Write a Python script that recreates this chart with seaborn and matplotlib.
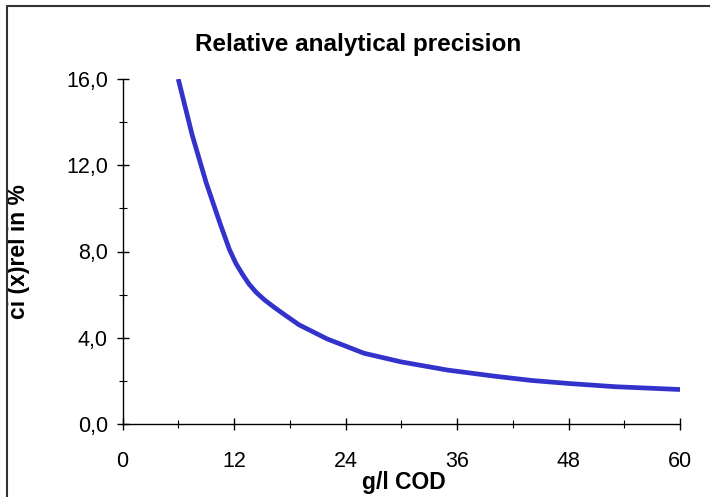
import matplotlib
matplotlib.use("Agg")
import matplotlib.pyplot as plt
import seaborn as sns
import pandas as pd
from matplotlib.ticker import MultipleLocator, FuncFormatter
from matplotlib.lines import Line2D

# Data
cod = [6, 7.5, 9, 10.5, 11.5, 12.2, 12.9, 13.6, 14.4, 15.3, 16.3, 17.5, 19, 22, 26, 30, 35, 40, 44, 48, 53, 60]
ci_rel = [16.0, 13.4, 11.2, 9.3, 8.1, 7.45, 6.95, 6.5, 6.1, 5.75, 5.42, 5.05, 4.6, 3.95, 3.28, 2.88, 2.5, 2.22, 2.02, 1.88, 1.73, 1.6]

title = "Relative analytical precision"
xlabel = "g/l COD"
ylabel = "ci (x)rel in %"
xticks = [0, 12, 24, 36, 48, 60]
yticks = [0, 4, 8, 12, 16]

sns.set_theme(style="white")
plt.rcParams['font.family'] = ['Liberation Sans', 'DejaVu Sans']
plt.rcParams['text.color'] = 'black'
plt.rcParams['axes.labelcolor'] = 'black'

fig = plt.figure(figsize=(7.1, 4.97), dpi=100)
ax = fig.add_axes([122.5/710, (497-424)/497, (680-122.5)/710, (424-79)/497])

df = pd.DataFrame({"x": cod, "y": ci_rel})
sns.lineplot(data=df, x="x", y="y", ax=ax, color="#3333CC", linewidth=3.4, sort=True)
ax.lines[0].set_solid_capstyle("butt")
ax.lines[0].set_solid_joinstyle("round")

ax.set_xlim(0, 60)
ax.set_ylim(0, 16)
ax.set_xticks(xticks)
ax.set_yticks(yticks)
ax.xaxis.set_minor_locator(MultipleLocator(6))
ax.yaxis.set_minor_locator(MultipleLocator(2))
ax.yaxis.set_major_formatter(FuncFormatter(lambda v, p: f"{v:.1f}".replace(".", ",")))
ax.xaxis.set_major_formatter(FuncFormatter(lambda v, p: f"{int(v)}"))

ax.tick_params(axis="both", which="major", direction="inout", length=9, width=1.0,
               color="black", labelsize=15.5, labelcolor="black")
ax.tick_params(axis="both", which="minor", direction="inout", length=6, width=0.8, color="black")
ax.tick_params(axis="x", which="major", pad=15)
ax.tick_params(axis="y", which="major", pad=6)
ax.xaxis.set_ticks_position("bottom")
ax.yaxis.set_ticks_position("left")

for side in ["top", "right"]:
    ax.spines[side].set_visible(False)
for side in ["left", "bottom"]:
    ax.spines[side].set_color("black")
    ax.spines[side].set_linewidth(1.0)

ax.set_xlabel(xlabel, fontsize=16.5, fontweight="bold", color="black")
ax.xaxis.set_label_coords((403.5-122.5)/557.5, -(471-424)/345)
ax.set_ylabel(ylabel, fontsize=16.5, fontweight="bold", color="black")
ax.yaxis.set_label_coords((30-122.5)/557.5, 0.5)

fig.text(358/710, 1 - 44/497, title, ha="center", va="center", fontsize=17.5,
         fontweight="bold", color="black")

# Figure border (left and top visible)
fig.add_artist(Line2D([7/710, 7/710], [0, 1 - 5.5/497], transform=fig.transFigure, color="#333333", lw=1.5))
fig.add_artist(Line2D([7/710, 1], [1 - 5.5/497, 1 - 5.5/497], transform=fig.transFigure, color="#333333", lw=1.5))

fig.savefig("out.png", dpi=100)
